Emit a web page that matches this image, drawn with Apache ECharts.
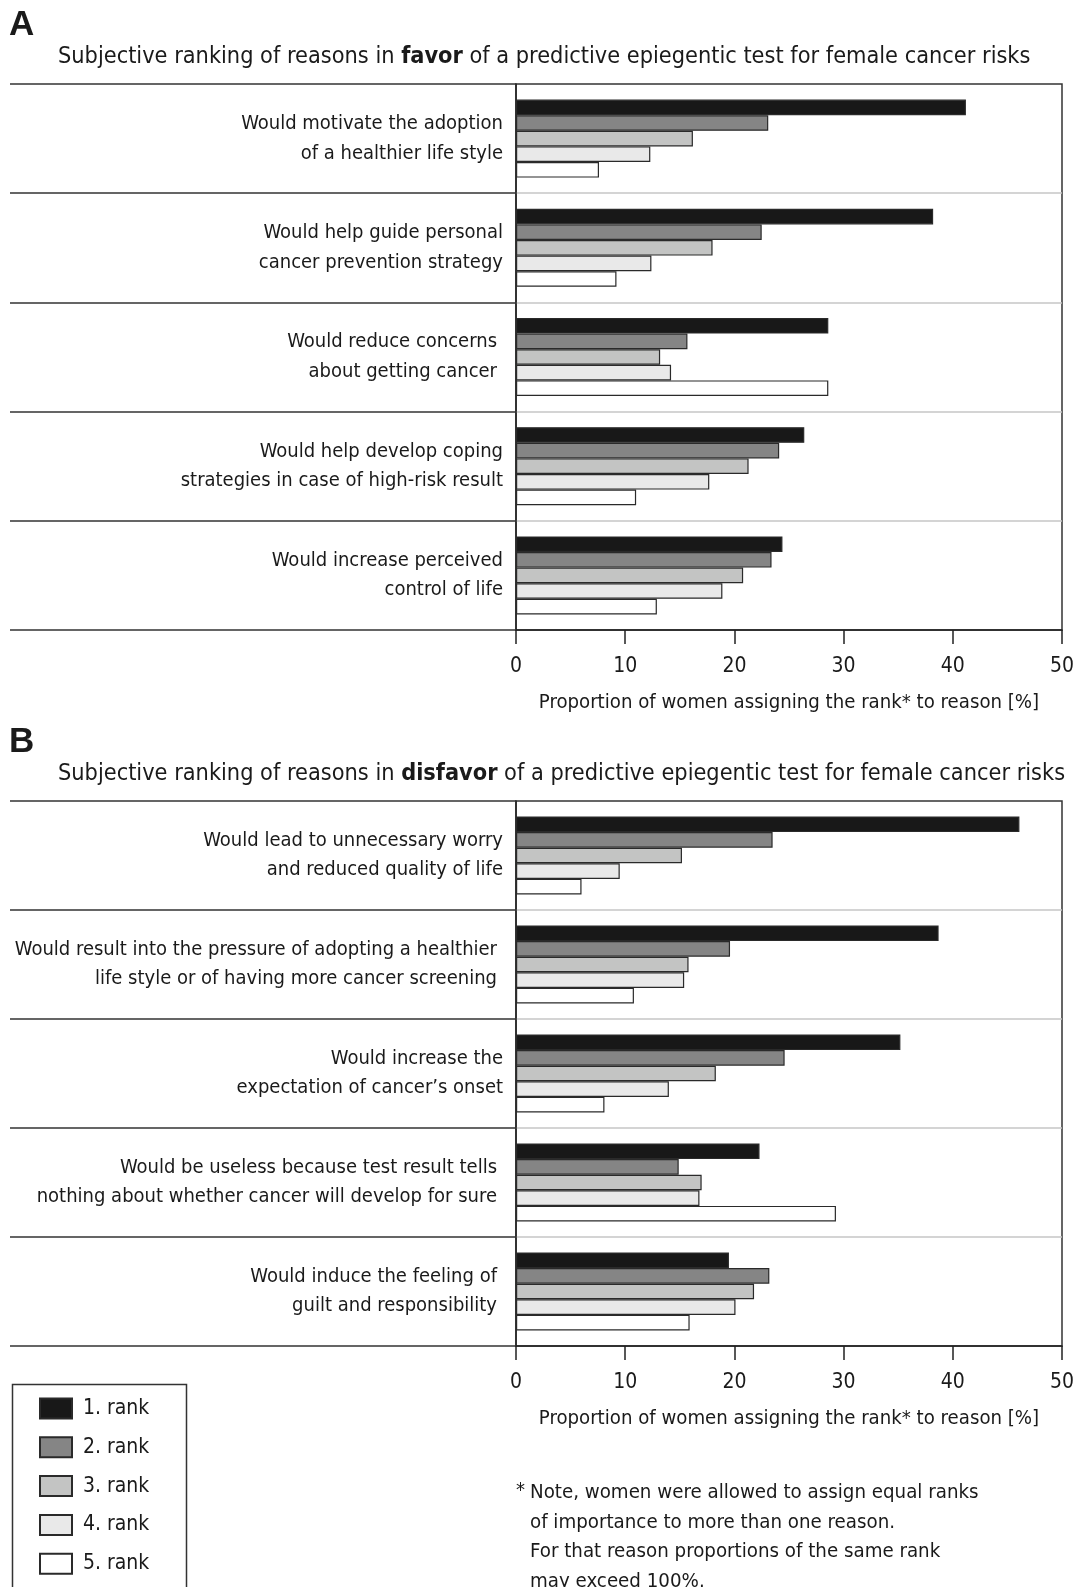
<!DOCTYPE html>
<html>
<head>
<meta charset="utf-8">
<script src="https://cdn.jsdelivr.net/npm/echarts@6/dist/echarts.min.js"></script>
<style>
  html, body { margin: 0; padding: 0; background: #fff; }
  #chart { width: 1078px; height: 1587px; }
</style>
</head>
<body>
<div id="chart"></div>
<script>
// Reasons in favor (panel A) and in disfavor (panel B)
const favorReasons = [
  'Would motivate the adoption\nof a healthier life style',
  'Would help guide personal\ncancer prevention strategy',
  'Would reduce concerns\nabout getting cancer',
  'Would help develop coping\nstrategies in case of high-risk result',
  'Would increase perceived\ncontrol of life'
];
const disfavorReasons = [
  'Would lead to unnecessary worry\nand reduced quality of life',
  'Would result into the pressure of adopting a healthier\nlife style or of having more cancer screening',
  'Would increase the\nexpectation of cancer\u2019s onset',
  'Would be useless because test result tells\nnothing about whether cancer will develop for sure',
  'Would induce the feeling of\nguilt and responsibility'
];

const rankNames = ['1. rank', '2. rank', '3. rank', '4. rank', '5. rank'];
const xTicks = [0, 10, 20, 30, 40, 50];

// Proportion of women (%) assigning each rank, per reason
const favorRank1 = [41.2, 38.2, 28.6, 26.4, 24.4];
const favorRank2 = [23.1, 22.5, 15.7, 24.1, 23.4];
const favorRank3 = [16.2, 18.0, 13.2, 21.3, 20.8];
const favorRank4 = [12.3, 12.4, 14.2, 17.7, 18.9];
const favorRank5 = [7.6, 9.2, 28.6, 11.0, 12.9];

const disfavorRank1 = [46.1, 38.7, 35.2, 22.3, 19.5];
const disfavorRank2 = [23.5, 19.6, 24.6, 14.9, 23.2];
const disfavorRank3 = [15.2, 15.8, 18.3, 17.0, 21.8];
const disfavorRank4 = [9.5, 15.4, 14.0, 16.8, 20.1];
const disfavorRank5 = [6.0, 10.8, 8.1, 29.3, 15.9];

const axisTitle = 'Proportion of women assigning the rank* to reason [%]';

// ---- styling ----
const FONT = '"Liberation Sans Narrow", "DejaVu Sans Condensed", "Liberation Sans", sans-serif';
const TXT = '#1a1a1a';
const rankFill = ['#181818', '#858585', '#c3c4c3', '#e9e9e9', '#ffffff'];
const EDGE = '#2a2a2a';
// labels that sit slightly further from the axis
const shiftedA = new Set([2]);
const shiftedB = new Set([1, 3, 4]);

const favorSeries = [favorRank1, favorRank2, favorRank3, favorRank4, favorRank5];
const disfavorSeries = [disfavorRank1, disfavorRank2, disfavorRank3, disfavorRank4, disfavorRank5];

const chart = echarts.init(document.getElementById('chart'), null, { renderer: 'canvas' });

function gridCfg(top, height) {
  return {
    left: 516, right: 16, top: top, height: height,
    outerBoundsMode: 'none', containLabel: false,
    show: true, borderColor: '#333', borderWidth: 1.5, backgroundColor: 'transparent'
  };
}

function xAxisCfg(gi) {
  return {
    gridIndex: gi, type: 'value', min: xTicks[0], max: xTicks[xTicks.length - 1], interval: 10,
    axisLine: { show: true, lineStyle: { color: '#222', width: 1.5 } },
    axisTick: { show: true, length: 14, lineStyle: { color: '#222', width: 1.5 } },
    axisLabel: { fontSize: 21, color: TXT, margin: 26, fontFamily: FONT },
    splitLine: { show: false },
    name: axisTitle, nameLocation: 'middle', nameGap: 63,
    nameTextStyle: { fontSize: 20.2, color: TXT, fontFamily: FONT }
  };
}

function yAxisCfg(gi, cats, shifted) {
  return {
    gridIndex: gi, type: 'category', data: cats, inverse: true,
    axisLine: { show: true, lineStyle: { color: '#222', width: 1.5 } },
    axisTick: { show: true, length: 506, interval: 0, lineStyle: { color: '#333', width: 1.5 } },
    axisLabel: {
      interval: 0, margin: 13, fontSize: 20, lineHeight: 29.5, color: TXT, fontFamily: FONT,
      formatter: function (v, i) {
        const lines = v.split('\n').map(l => shifted.has(i) ? '{s|' + l + '}' : '{n|' + l + '}');
        return lines.join('\n');
      },
      rich: {
        n: { fontSize: 20, lineHeight: 29.5, color: TXT, fontFamily: FONT, align: 'right' },
        s: { fontSize: 20, lineHeight: 29.5, color: TXT, fontFamily: FONT, align: 'right', padding: [0, 6, 0, 0] }
      }
    },
    splitLine: { show: true, showMinLine: false, showMaxLine: false, lineStyle: { color: '#c6c6c6', width: 1.5 } }
  };
}

const series = [];
[favorSeries, disfavorSeries].forEach(function (set, gi) {
  set.forEach(function (vals, r) {
    series.push({
      type: 'bar', name: rankNames[r], xAxisIndex: gi, yAxisIndex: gi,
      data: vals, barWidth: 15.6, barGap: '0%',
      itemStyle: { color: rankFill[r], borderColor: EDGE, borderWidth: 1.2 },
      emphasis: { disabled: true }
    });
  });
});

const option = {
  animation: false,
  textStyle: { fontFamily: FONT },
  grid: [gridCfg(84, 546), gridCfg(801, 545)],
  xAxis: [xAxisCfg(0), xAxisCfg(1)],
  yAxis: [yAxisCfg(0, favorReasons, shiftedA), yAxisCfg(1, disfavorReasons, shiftedB)],
  legend: {
    data: rankNames, orient: 'vertical', left: 10, top: 1382, height: 200,
    itemWidth: 32, itemHeight: 20, itemGap: 16.8, icon: 'rect',
    padding: [15.5, 0, 0, 29],
    selectedMode: false,
    textStyle: { fontSize: 21, color: TXT, fontFamily: FONT, padding: [0, 0, 0, 6] }
  },
  series: series,
  graphic: [
    { type: 'rect', left: 10, top: 1382, shape: { width: 174, height: 230 }, style: { fill: 'none', stroke: '#333', lineWidth: 1.5 } },
    { type: 'text', left: 9, top: 8, style: { text: 'A', font: 'bold 35px "Liberation Sans", sans-serif', fill: TXT } },
    { type: 'text', left: 9, top: 725, style: { text: 'B', font: 'bold 35px "Liberation Sans", sans-serif', fill: TXT } },
    {
      type: 'text', left: 58, top: 45,
      style: {
        text: '{n|Subjective ranking of reasons in }{b|favor}{n| of a predictive epiegentic test for female cancer risks}',
        rich: {
          n: { fontSize: 23.3, fontFamily: FONT, fill: TXT },
          b: { fontSize: 23.3, fontFamily: FONT, fontWeight: 'bold', fill: TXT }
        }
      }
    },
    {
      type: 'text', left: 58, top: 762,
      style: {
        text: '{n|Subjective ranking of reasons in }{b|disfavor}{n| of a predictive epiegentic test for female cancer risks}',
        rich: {
          n: { fontSize: 23.3, fontFamily: FONT, fill: TXT },
          b: { fontSize: 23.3, fontFamily: FONT, fontWeight: 'bold', fill: TXT }
        }
      }
    },
    { type: 'text', left: 516, top: 1481, style: { text: '*', fontSize: 20, fontFamily: FONT, fill: TXT } },
    {
      type: 'text', left: 530, top: 1478,
      style: {
        text: 'Note, women were allowed to assign equal ranks\nof importance to more than one reason.\nFor that reason proportions of the same rank\nmay exceed 100%.',
        fontSize: 20.3, lineHeight: 29.5, fontFamily: FONT, fill: TXT
      }
    }
  ]
};

chart.setOption(option);
</script>
</body>
</html>
